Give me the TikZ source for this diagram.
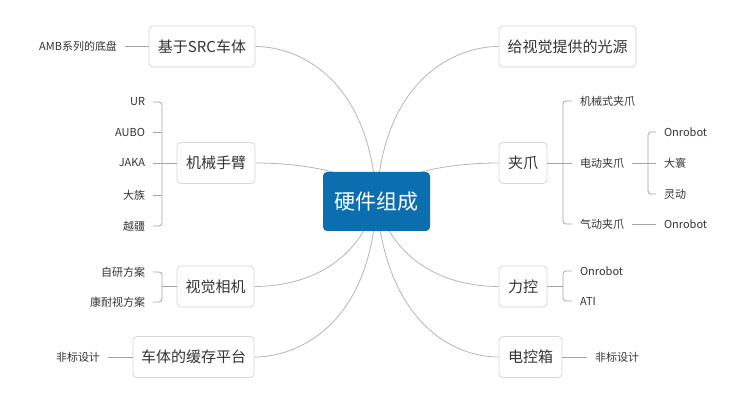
\documentclass[tikz,border=0pt]{standalone}
\usepackage{fontspec}
\newfontfamily\cjk{Noto Sans CJK SC}
\usetikzlibrary{backgrounds}
\definecolor{rootblue}{HTML}{0B6EAF}
\definecolor{branchgray}{HTML}{B5B5B5}
\definecolor{subgray}{HTML}{A3A3A3}
\definecolor{boxgray}{HTML}{D6D6D6}
\definecolor{inktext}{HTML}{333333}
\tikzset{
  root/.style={draw=none, fill=rootblue, rounded corners=4pt, text=white, font=\cjk\fontsize{21}{25}\selectfont, minimum width=107pt, minimum height=59pt, inner sep=0pt},
  topic/.style={draw=boxgray, line width=0.8pt, fill=white, rounded corners=4pt, text=inktext, font=\cjk\fontsize{15}{18}\selectfont, minimum height=41pt, inner sep=0pt},
  leaf/.style={text=inktext, font=\cjk\fontsize{11}{13}\selectfont, inner sep=1pt, outer xsep=7pt},
  branch/.style={draw=branchgray, line width=0.8pt},
  sub/.style={draw=subgray, line width=0.8pt, rounded corners=3pt},
}
\begin{document}
\begin{tikzpicture}[x=1pt, y=-1pt]
\useasboundingbox (0,0) rectangle (750,406);
% centre
\node[root] (root) at (376.5,201.5) {硬件组成};
% left topics
\node[topic, minimum width=106pt] (src) at (202,46.5) {基于SRC车体};
\node[topic, minimum width=78pt] (arm) at (216,163) {机械手臂};
\node[topic, minimum width=77pt] (cam) at (215.5,286.5) {视觉相机};
\node[topic, minimum width=121pt] (buf) at (193.5,357) {车体的缓存平台};
% right topics
\node[topic, minimum width=137pt] (light) at (567.5,46.5) {给视觉提供的光源};
\node[topic, minimum width=48pt] (grip) at (523,163) {夹爪};
\node[topic, minimum width=48pt] (force) at (523,286.5) {力控};
\node[topic, minimum width=63pt] (ebox) at (530.5,357) {电控箱};
% curves from the centre
\begin{scope}[on background layer]
\draw[branch] (root.center) .. controls +(-6,-121) and +(45,0) .. (src.east);
\draw[branch] (root.center) .. controls +(-12,-30) and +(45,0) .. (arm.east);
\draw[branch] (root.center) .. controls +(-20,67) and +(45,0) .. (cam.east);
\draw[branch] (root.center) .. controls +(-6,122) and +(45,0) .. (buf.east);
\draw[branch] (root.center) .. controls +(6,-121) and +(-45,0) .. (light.west);
\draw[branch] (root.center) .. controls +(12,-30) and +(-45,0) .. (grip.west);
\draw[branch] (root.center) .. controls +(20,67) and +(-45,0) .. (force.west);
\draw[branch] (root.center) .. controls +(10,122) and +(-45,0) .. (ebox.west);
\end{scope}
% left leaves
\node[leaf, anchor=east] (amb) at (125,46.5) {AMB系列的底盘};
\draw[sub] (amb.east) -- (src.west);
\node[leaf, anchor=east] (ur) at (153,102) {UR};
\node[leaf, anchor=east] (aubo) at (153,132) {AUBO};
\node[leaf, anchor=east] (jaka) at (153,163) {JAKA};
\node[leaf, anchor=east] (dazu) at (153,195) {大族};
\node[leaf, anchor=east] (yuejiang) at (153,226) {越疆};
\coordinate (armj) at (162,163);
\draw[sub] (ur.east) -| (armj) |- (yuejiang.east);
\draw[sub] (aubo.east) -- (aubo.east -| armj);
\draw[sub] (dazu.east) -- (dazu.east -| armj);
\draw[sub] (jaka.east) -- (arm.west);
\node[leaf, anchor=east] (selfcam) at (153,272) {自研方案};
\node[leaf, anchor=east] (cognex) at (153,302) {康耐视方案};
\coordinate (camj) at (162,286.5);
\draw[sub] (selfcam.east) -| (camj) |- (cognex.east);
\draw[sub] (camj) -- (cam.west);
\node[leaf, anchor=east] (bufleaf) at (108,357) {非标设计};
\draw[sub] (bufleaf.east) -- (buf.west);
% right leaves
\node[leaf, anchor=west] (mech) at (572,101) {机械式夹爪};
\node[leaf, anchor=west] (elec) at (572,163) {电动夹爪};
\node[leaf, anchor=west] (pneu) at (572,224) {气动夹爪};
\coordinate (gripj) at (563,163);
\draw[sub] (mech.west) -| (gripj) |- (pneu.west);
\draw[sub] (grip.east) -- (elec.west);
\node[leaf, anchor=west] (onelec) at (656,132) {Onrobot};
\node[leaf, anchor=west] (dahuan) at (656,163) {大寰};
\node[leaf, anchor=west] (lingdong) at (656,194) {灵动};
\coordinate (elecj) at (648,163);
\draw[sub] (onelec.west) -| (elecj) |- (lingdong.west);
\draw[sub] (elec.east) -- (dahuan.west);
\node[leaf, anchor=west] (onpneu) at (656,224) {Onrobot};
\draw[sub] (pneu.east) -- (onpneu.west);
\node[leaf, anchor=west] (onforce) at (572,271) {Onrobot};
\node[leaf, anchor=west] (ati) at (572,301) {ATI};
\coordinate (forcej) at (563,286.5);
\draw[sub] (onforce.west) -| (forcej) |- (ati.west);
\draw[sub] (force.east) -- (forcej);
\node[leaf, anchor=west] (boxleaf) at (587,357) {非标设计};
\draw[sub] (ebox.east) -- (boxleaf.west);
\end{tikzpicture}
\end{document}
